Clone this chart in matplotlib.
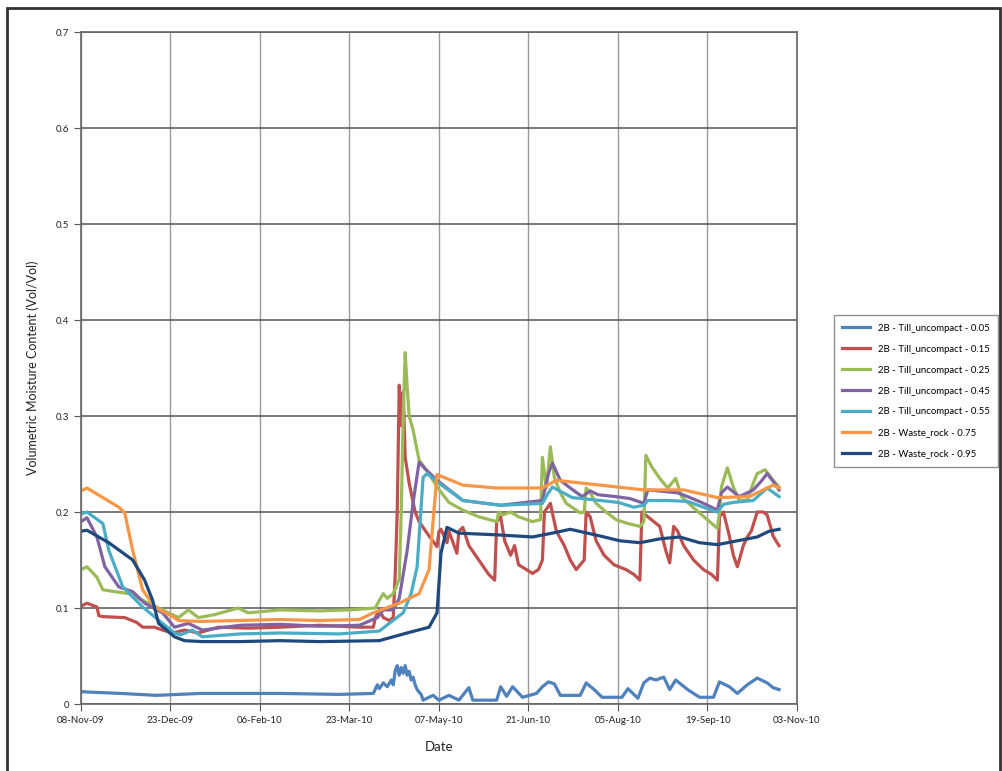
import datetime as dt
import matplotlib
matplotlib.use("Agg")
import matplotlib.pyplot as plt
import matplotlib.dates as mdates
from matplotlib.patches import Rectangle

plt.rcParams['font.family'] = ['Lato', 'DejaVu Sans']

start = dt.date(2009, 11, 8)

# 数据: 距 08-Nov-09 的天数 和 体积含水量
blue_d = [0, 3, 20, 38, 60, 80, 100, 130, 147, 149, 150, 152, 154, 156, 157, 158, 159, 160, 161, 162, 163, 164,
          165, 166, 167, 168, 169, 171, 172, 177, 180, 185, 190, 195, 197, 203, 209, 211, 214, 217, 222, 229, 232,
          235, 238, 241, 251, 254, 258, 262, 272, 275, 280, 283, 286, 289, 293, 296, 299, 305, 311, 318, 321, 326,
          330, 335, 340, 345, 348, 351]
blue_v = [0.013, 0.0125, 0.011, 0.009, 0.011, 0.011, 0.011, 0.010, 0.011, 0.020, 0.016, 0.022, 0.018, 0.025, 0.020,
          0.035, 0.040, 0.030, 0.038, 0.032, 0.040, 0.030, 0.034, 0.025, 0.028, 0.020, 0.015, 0.010, 0.004, 0.009,
          0.004, 0.009, 0.004, 0.017, 0.004, 0.004, 0.004, 0.018, 0.008, 0.018, 0.007, 0.011, 0.018, 0.023, 0.021,
          0.009, 0.009, 0.022, 0.015, 0.007, 0.007, 0.016, 0.006, 0.022, 0.027, 0.025, 0.028, 0.015, 0.025, 0.015,
          0.007, 0.007, 0.023, 0.018, 0.011, 0.020, 0.027, 0.022, 0.017, 0.015]

red_d = [0, 3, 8, 9, 11, 22, 28, 31, 37, 41, 46, 52, 59, 69, 84, 100, 120, 140, 147, 148, 150, 152, 155, 157, 158,
         159, 160, 161, 162, 163, 165, 168, 170, 175, 179, 180, 181, 184, 185, 189, 190, 192, 195, 200, 205, 208,
         209, 211, 213, 216, 218, 220, 224, 227, 230, 232, 233, 236, 239, 243, 246, 249, 251, 253, 254, 256, 259,
         263, 268, 274, 278, 281, 282, 285, 288, 291, 294, 296, 298, 300, 303, 308, 313, 317, 320, 321, 323, 326,
         328, 330, 333, 335, 337, 340, 343, 345, 348, 350, 351]
red_v = [0.102, 0.105, 0.101, 0.092, 0.091, 0.090, 0.085, 0.080, 0.080, 0.077, 0.074, 0.077, 0.074, 0.080, 0.079,
         0.080, 0.082, 0.080, 0.080, 0.090, 0.098, 0.090, 0.087, 0.090, 0.136, 0.200, 0.332, 0.290, 0.325, 0.257,
         0.230, 0.200, 0.190, 0.175, 0.164, 0.180, 0.182, 0.168, 0.180, 0.157, 0.180, 0.184, 0.165, 0.150, 0.135,
         0.129, 0.190, 0.195, 0.170, 0.155, 0.165, 0.145, 0.140, 0.136, 0.140, 0.150, 0.200, 0.209, 0.180, 0.165,
         0.150, 0.140, 0.145, 0.150, 0.200, 0.195, 0.170, 0.155, 0.145, 0.140, 0.135, 0.129, 0.200, 0.195, 0.190,
         0.185, 0.160, 0.147, 0.185, 0.180, 0.165, 0.150, 0.140, 0.135, 0.129, 0.195, 0.200, 0.175, 0.155, 0.143,
         0.165, 0.174, 0.180, 0.200, 0.200, 0.197, 0.175, 0.168, 0.165]

green_d = [0, 3, 8, 11, 17, 24, 34, 44, 49, 54, 59, 67, 79, 84, 100, 120, 135, 148, 150, 152, 154, 157, 159, 160,
           161, 162, 163, 164, 165, 167, 170, 175, 179, 185, 192, 200, 209, 210, 212, 216, 220, 227, 231, 232, 234,
           236, 238, 241, 244, 251, 253, 254, 256, 259, 264, 269, 275, 281, 283, 284, 287, 291, 295, 297, 299, 302,
           306, 311, 316, 320, 321, 322, 325, 328, 331, 335, 338, 340, 344, 348, 351]
green_v = [0.140, 0.143, 0.132, 0.119, 0.117, 0.115, 0.105, 0.095, 0.090, 0.098, 0.090, 0.093, 0.100, 0.095, 0.098,
           0.097, 0.098, 0.100, 0.108, 0.115, 0.110, 0.115, 0.125, 0.130, 0.200, 0.300, 0.366, 0.330, 0.300, 0.285,
           0.254, 0.240, 0.226, 0.210, 0.202, 0.195, 0.190, 0.200, 0.197, 0.200, 0.195, 0.190, 0.192, 0.257, 0.225,
           0.268, 0.236, 0.220, 0.209, 0.199, 0.200, 0.225, 0.220, 0.209, 0.200, 0.192, 0.188, 0.185, 0.190, 0.259,
           0.247, 0.235, 0.225, 0.230, 0.235, 0.216, 0.208, 0.199, 0.190, 0.183, 0.200, 0.226, 0.246, 0.226, 0.212,
           0.212, 0.230, 0.240, 0.244, 0.233, 0.226]

purple_d = [0, 3, 8, 12, 19, 26, 32, 41, 47, 54, 61, 80, 100, 120, 140, 149, 152, 157, 160, 164, 167, 170, 173,
            179, 192, 211, 232, 235, 237, 241, 246, 252, 256, 260, 269, 276, 283, 285, 290, 295, 300, 305, 312, 320,
            322, 325, 331, 338, 342, 345, 348, 351]
purple_v = [0.190, 0.194, 0.174, 0.143, 0.122, 0.117, 0.105, 0.095, 0.080, 0.084, 0.077, 0.082, 0.083, 0.081,
            0.082, 0.090, 0.098, 0.098, 0.110, 0.160, 0.210, 0.252, 0.245, 0.233, 0.212, 0.207, 0.212, 0.240, 0.251,
            0.233, 0.225, 0.216, 0.222, 0.218, 0.216, 0.214, 0.209, 0.223, 0.222, 0.221, 0.220, 0.216, 0.210, 0.202,
            0.220, 0.226, 0.216, 0.223, 0.232, 0.240, 0.232, 0.223]

cyan_d = [0, 3, 11, 14, 21, 31, 41, 47, 50, 56, 61, 80, 100, 130, 150, 155, 162, 166, 169, 172, 174, 180, 192, 211,
          232, 235, 237, 247, 261, 270, 278, 283, 285, 295, 305, 313, 320, 323, 328, 338, 345, 351]
cyan_v = [0.198, 0.200, 0.188, 0.160, 0.122, 0.101, 0.084, 0.074, 0.072, 0.077, 0.070, 0.073, 0.074, 0.073, 0.076,
          0.084, 0.095, 0.115, 0.143, 0.236, 0.240, 0.230, 0.212, 0.207, 0.209, 0.220, 0.226, 0.215, 0.212, 0.210,
          0.205, 0.207, 0.212, 0.212, 0.211, 0.205, 0.200, 0.208, 0.210, 0.212, 0.225, 0.216]

orange_d = [0, 3, 19, 22, 26, 31, 37, 46, 49, 60, 80, 100, 120, 140, 147, 160, 170, 175, 177, 179, 192, 209, 232,
            239, 261, 283, 303, 320, 336, 348, 351]
orange_v = [0.222, 0.225, 0.205, 0.199, 0.160, 0.119, 0.101, 0.091, 0.087, 0.086, 0.087, 0.088, 0.087, 0.088,
            0.095, 0.105, 0.115, 0.140, 0.190, 0.239, 0.228, 0.225, 0.225, 0.233, 0.228, 0.223, 0.223, 0.215, 0.216,
            0.228, 0.225]

navy_d = [0, 3, 14, 26, 32, 36, 39, 47, 52, 61, 80, 100, 120, 150, 164, 175, 179, 181, 184, 190, 211, 227, 237,
          246, 261, 271, 281, 291, 301, 311, 320, 330, 340, 346, 351]
navy_v = [0.180, 0.181, 0.168, 0.150, 0.129, 0.108, 0.084, 0.070, 0.066, 0.065, 0.065, 0.066, 0.065, 0.066, 0.074,
          0.080, 0.095, 0.157, 0.184, 0.178, 0.176, 0.174, 0.178, 0.182, 0.175, 0.170, 0.168, 0.172, 0.174, 0.168,
          0.166, 0.170, 0.174, 0.180, 0.182]

series = [
    ("2B - Till_uncompact - 0.05", blue_d, blue_v, "#4F81BD"),
    ("2B - Till_uncompact - 0.15", red_d, red_v, "#C0504D"),
    ("2B - Till_uncompact - 0.25", green_d, green_v, "#9BBB59"),
    ("2B - Till_uncompact - 0.45", purple_d, purple_v, "#8064A2"),
    ("2B - Till_uncompact - 0.55", cyan_d, cyan_v, "#4BACC6"),
    ("2B - Waste_rock - 0.75", orange_d, orange_v, "#F79646"),
    ("2B - Waste_rock - 0.95", navy_d, navy_v, "#1F497D"),
]

fig = plt.figure(figsize=(10.03, 7.71), dpi=100)
ax = fig.add_axes([81 / 1003, 67 / 771, 716 / 1003, 672 / 771])

for name, d, v, c in series:
    dates = [start + dt.timedelta(days=k) for k in d]
    ax.plot(dates, v, color=c, lw=2.3, label=name)

# 坐标轴
xt = [start + dt.timedelta(days=45 * i) for i in range(9)]
ax.set_xlim(xt[0], xt[-1])
ax.set_xticks(xt)
ax.xaxis.set_major_formatter(mdates.DateFormatter('%d-%b-%y'))
ax.set_ylim(0, 0.7)
ax.set_yticks([0, 0.1, 0.2, 0.3, 0.4, 0.5, 0.6, 0.7])
ax.set_yticklabels(["0", "0.1", "0.2", "0.3", "0.4", "0.5", "0.6", "0.7"])
ax.tick_params(labelsize=7, length=5, color='#555555', labelcolor='#222222')
ax.grid(axis='y', color='#555555', lw=1.1)
ax.grid(axis='x', color='#9a9a9a', lw=1.0)
ax.set_axisbelow(True)
for s in ax.spines.values():
    s.set_color('#666666')
    s.set_linewidth(1.2)

ax.set_xlabel("Date", fontsize=9.5, labelpad=12, color='#222222')
ax.set_ylabel("Volumetric Moisture Content (Vol/Vol)", fontsize=9, labelpad=12, color='#222222')

leg = fig.legend(loc='center left', bbox_to_anchor=(829 / 1003, (771 - 391) / 771), fontsize=6.9,
                 frameon=True, fancybox=False, edgecolor='#777777', handlelength=2.9, labelspacing=1.25,
                 borderpad=0.9, handletextpad=0.8)
leg.get_frame().set_linewidth(1.0)

# 外框
fig.patches.append(Rectangle((7 / 1003, -0.01), 993 / 1003, 1.01 - 8 / 771, transform=fig.transFigure,
                             fill=False, edgecolor='#333333', lw=2))

fig.savefig("out.png", dpi=100)
